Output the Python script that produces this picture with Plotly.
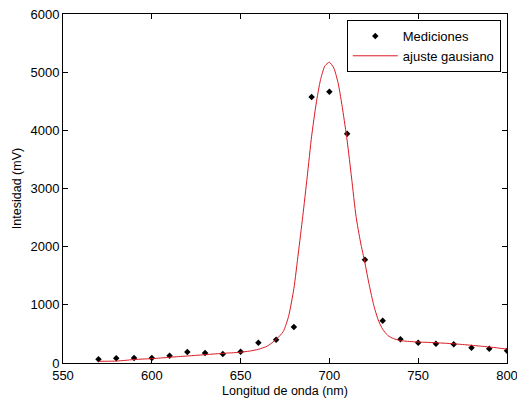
import plotly.graph_objects as go

# Measured points
wavelength = [570, 580, 590, 600, 610, 620, 630, 640, 650, 660, 670, 680,
              690, 700, 710, 720, 730, 740, 750, 760, 770, 780, 790, 800]
intensity = [63, 80, 86, 86, 126, 189, 172, 155, 195, 350, 401, 619,
             4573, 4664, 3943, 1776, 727, 407, 349, 332, 321, 264, 247, 212]

# Gaussian fit curve
fit_x = [570, 575, 580, 585, 590, 595, 600, 605, 610, 615, 620, 625, 630, 635,
         640, 645, 650, 655, 660, 665, 670, 674, 677, 680, 682.5, 685, 687.5,
         690, 692.5, 695, 697.5, 700, 702.5, 705, 707.5, 710, 712.5, 715,
         717.5, 720, 722.5, 725, 727.5, 730, 733, 736, 740, 745, 750, 755,
         760, 765, 770, 775, 780, 785, 790, 795, 800]
fit_y = [30, 30, 33, 45, 60, 68, 75, 86, 98, 110, 120, 132, 143, 155,
         166, 175, 185, 205, 235, 290, 405, 540, 800, 1280, 1890, 2520, 3200,
         3900, 4450, 4870, 5110, 5170, 5070, 4800, 4350, 3820, 3180, 2520,
         2080, 1720, 1330, 990, 740, 580, 470, 420, 385, 370, 360, 355,
         348, 340, 330, 318, 304, 290, 275, 258, 238]

x_ticks = [550, 600, 650, 700, 750, 800]
y_ticks = [0, 1000, 2000, 3000, 4000, 5000, 6000]

font = "Liberation Sans, Arial, sans-serif"

fig = go.Figure()
fig.add_trace(go.Scatter(
    x=wavelength, y=intensity, mode="markers", name="Mediciones",
    marker=dict(symbol="diamond", size=5, color="black"),
))
fig.add_trace(go.Scatter(
    x=fit_x, y=fit_y, mode="lines", name="ajuste gausiano",
    line=dict(color="rgb(220,25,35)", width=1, shape="spline", smoothing=0.6),
))

axis_common = dict(
    showline=True, linecolor="black", linewidth=1, mirror="ticks",
    ticks="inside", ticklen=5, tickcolor="black", tickwidth=1,
    showgrid=False, zeroline=False, automargin=False,
    ticklabeloverflow="allow",
    tickfont=dict(family=font, size=13, color="black"),
)

fig.update_layout(
    width=517, height=406,
    margin=dict(l=63, r=10, t=14, b=43),
    paper_bgcolor="white", plot_bgcolor="white",
    font=dict(family=font, size=13, color="black"),
    xaxis=dict(range=[550, 800], tickvals=x_ticks,
               title=dict(text="Longitud de onda (nm)",
                          font=dict(family=font, size=12.5, color="black"),
                          standoff=4),
               **axis_common),
    yaxis=dict(range=[0, 6000], tickvals=y_ticks,
               title=dict(text="Intesidad (mV)",
                          font=dict(family=font, size=12.5, color="black"),
                          standoff=6),
               **axis_common),
    legend=dict(x=0.986, y=0.983, xanchor="right", yanchor="top",
                bgcolor="white", bordercolor="black", borderwidth=1,
                font=dict(family=font, size=13, color="black"),
                tracegroupgap=0, itemwidth=45),
    showlegend=True,
)

fig.write_html(
    "out.html",
    config={"displayModeBar": False},
    post_script="document.body.style.margin='0';document.body.style.overflow='hidden';",
)
